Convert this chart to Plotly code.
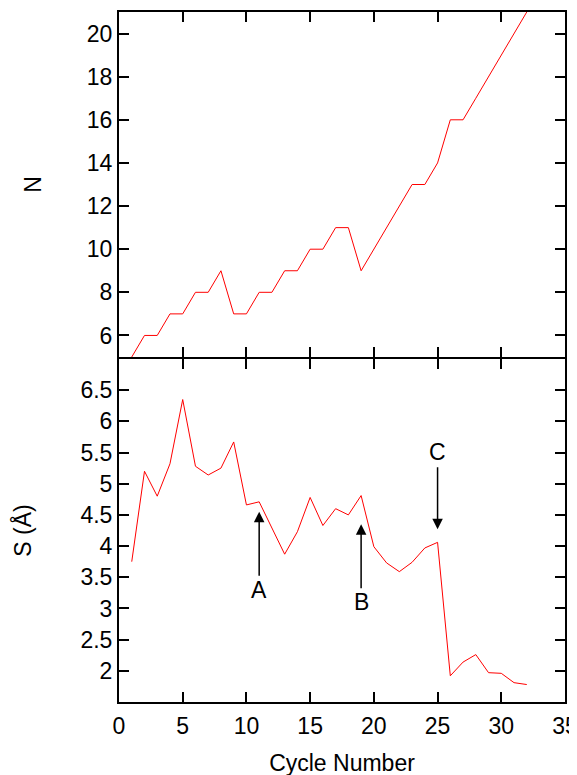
import plotly.graph_objects as go

cycles = list(range(1, 33))
n_values = [5, 6, 6, 7, 7, 8, 8, 9, 7, 7, 8, 8, 9, 9, 10, 10, 11, 11, 9, 10,
            11, 12, 13, 13, 14, 16, 16, 17, 18, 19, 20, 21]
s_values = [3.75, 5.20, 4.80, 5.32, 6.35, 5.28, 5.14, 5.25, 5.67, 4.66,
            4.71, 4.28, 3.87, 4.23, 4.78, 4.33, 4.60, 4.50, 4.81, 3.99,
            3.73, 3.59, 3.74, 3.97, 4.06, 1.92, 2.14, 2.26, 1.97, 1.96,
            1.81, 1.78]

# annotations: label, x, label y, arrow tail y, arrow tip y
marks = [("A", 11, 3.29, 3.50, 4.55),
         ("B", 19, 3.10, 3.30, 4.35),
         ("C", 25, 5.51, 5.29, 4.27)]

s_ticks = [2, 2.5, 3, 3.5, 4, 4.5, 5, 5.5, 6, 6.5]

font = "Liberation Sans, Arial, Helvetica, sans-serif"
fs = 23

fig = go.Figure()
fig.add_trace(go.Scatter(x=cycles, y=n_values, mode="lines",
                         line=dict(color="#ff0000", width=1),
                         xaxis="x", yaxis="y", showlegend=False))
fig.add_trace(go.Scatter(x=cycles, y=s_values, mode="lines",
                         line=dict(color="#ff0000", width=1),
                         xaxis="x2", yaxis="y2", showlegend=False))

ann = []
for lab, x, ly, ty, hy in marks:
    ann.append(dict(x=x, y=hy, ax=x, ay=ty, xref="x2", yref="y2",
                    axref="x2", ayref="y2", showarrow=True, arrowhead=2,
                    arrowsize=1.4, arrowwidth=1.5, arrowcolor="black", text=""))
    ann.append(dict(x=x, y=ly, xref="x2", yref="y2", text=lab,
                    showarrow=False, font=dict(size=fs, color="black", family=font)))

axis_common = dict(showline=True, linecolor="black", linewidth=2, mirror="ticks",
                   ticks="inside", ticklen=10, tickwidth=1.5, tickcolor="black",
                   showgrid=False, zeroline=False,
                   tickfont=dict(size=fs, color="black", family=font))

W, H = 577, 775
mt, mb = 2, 81
plot_h = H - mt - mb
fig.update_layout(
    width=W, height=H,
    margin=dict(l=111, r=20, t=mt, b=mb),
    paper_bgcolor="white", plot_bgcolor="white",
    font=dict(family=font, color="black"),
    xaxis=dict(axis_common, domain=[0, 1], range=[0, 35], dtick=5,
               anchor="y", showticklabels=False),
    yaxis=dict(axis_common, domain=[0.5, 1], range=[5, 21], dtick=2,
               anchor="x", title=dict(text="N", font=dict(size=fs), standoff=39)),
    xaxis2=dict(axis_common, domain=[0, 1], range=[0, 35], dtick=5,
                anchor="y2", ticklabelstandoff=2, ticklabeloverflow="allow",
                title=dict(text="Cycle Number", font=dict(size=fs), standoff=17)),
    yaxis2=dict(axis_common, domain=[0, 0.5 - 2 / plot_h], range=[1.5, 7],
                tickvals=s_ticks, ticktext=[f"{v:g}" for v in s_ticks],
                anchor="x2",
                title=dict(text="S (Å)", font=dict(size=fs), standoff=42)),
    annotations=ann,
)

fig.write_html("out.html", config={"displayModeBar": False})
